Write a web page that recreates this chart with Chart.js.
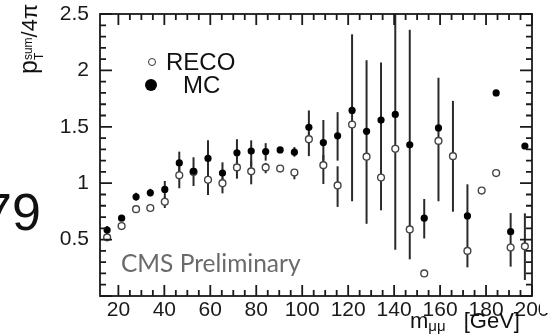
<!DOCTYPE html>
<html>
<head>
<meta charset="utf-8">
<script src="https://cdn.jsdelivr.net/npm/chart.js@4.4.1/dist/chart.umd.min.js"></script>
<style>
  body { margin: 0; background: #fff; }
  #wrap { position: relative; width: 557px; height: 335px; overflow: hidden; font-family: 'Liberation Sans', Arial, sans-serif; color: #111; }
  #chart-pt { position: absolute; left: 0; top: 0; }
  .lbl { position: absolute; white-space: nowrap; line-height: 1; }
  .mk { position: absolute; border-radius: 50%; box-sizing: border-box; }
  sub { line-height: 0; }
</style>
</head>
<body>
<div id="wrap">
  <canvas id="chart-pt" width="557" height="335"></canvas>

  <div class="lbl" style="left:-17px; top:186px; font-size:52px;">79</div>

  <div class="lbl" id="ytitle" style="left:13px; top:74px; transform:rotate(-90deg); transform-origin:left top; line-height:30px;">
    <span style="font-size:25px">p</span><span style="display:inline-block; vertical-align:-6px; line-height:11px; font-size:12px;">sum<br>T</span><span style="font-size:22px">/4π</span>
  </div>

  <div class="lbl" style="left:410px; top:310px; font-size:22px; line-height:22px;">m<sub style="font-size:15px; vertical-align:-3px; padding-right:12px;">μμ</sub> [GeV]</div>

  <!-- legend -->
  <div class="mk" style="left:148px; top:58px; width:8px; height:8px; border:1.5px solid #333; background:#fff;"></div>
  <div class="lbl" style="left:166px; top:50px; font-size:24px;">RECO</div>
  <div class="mk" style="left:145px; top:79px; width:12px; height:12px; background:#000;"></div>
  <div class="lbl" style="left:183px; top:73px; font-size:24px;">MC</div>

  <div class="lbl" style="left:121px; top:251px; font-size:24.5px; font-family:Lato, sans-serif; color:#6a6a6a;">CMS Preliminary</div>

  <!-- the figure is trimmed a little past the right axis -->
  <div style="position:absolute; left:540px; top:296px; width:17px; height:17px; background:#fff;"></div>
</div>

<script>
// dimuon mass bin centres [GeV]
const massBins = [15.1, 21.4, 27.7, 33.9, 40.2, 46.5, 52.7, 59.0, 65.3, 71.6,
                  77.8, 84.1, 90.4, 96.6, 102.9, 109.2, 115.4, 121.7, 128.0, 134.3,
                  140.5, 146.8, 153.1, 159.3, 165.6, 171.9, 178.1, 184.4, 190.7, 196.9]

// generator level (MC)
const mcVal = [0.585, 0.69, 0.88, 0.915, 0.945, 1.18, 1.105, 1.22, 1.09, 1.27,
               1.285, 1.28, 1.295, 1.275, 1.495, 1.36, 1.42, 1.645, 1.46, 1.56,
               1.61, 1.34, 0.69, 1.49, null, 0.71, null, 1.80, 0.57, 1.33]
const mcLo  = [0.55, 0.67, 0.845, 0.885, 0.86, 1.08, 0.975, 1.05, 1.0, 1.15,
               1.15, 1.2, 1.275, 1.235, 1.35, 1.2, 1.2, 0.84, 0.64, 0.76,
               0.41, 0.325, 0.51, 0.84, null, 0.254, null, null, 0.26, null]
const mcHi  = [0.62, 0.71, 0.915, 0.95, 1.02, 1.28, 1.23, 1.38, 1.185, 1.39,
               1.38, 1.355, 1.315, 1.32, 1.645, 1.56, 1.63, 2.32, 2.09, 2.07,
               2.7, 2.36, 0.86, 1.935, null, 0.99, null, null, 0.735, null]

// reconstructed (RECO)
const recoVal = [0.52, 0.62, 0.77, 0.78, 0.835, 1.07, 1.10, 1.03, 1.0, 1.14,
                 1.105, 1.14, 1.13, 1.095, 1.39, 1.16, 0.98, 1.52, 1.235, 1.05,
                 1.305, 0.59, 0.20, 1.375, 1.24, 0.40, 0.935, 1.09, 0.43, 0.44]
const recoLo  = [null, null, null, null, 0.78, 0.955, null, 0.895, 0.91, 1.04,
                 0.99, 1.088, null, 1.035, 1.24, 0.993, 0.79, null, null, null,
                 null, null, null, null, 0.747, null, null, null, null, 0.142]
const recoHi  = [null, null, null, null, 0.88, 1.15, null, 1.15, 1.05, 1.2,
                 1.2, 1.18, null, 1.12, 1.45, 1.25, 1.15, null, null, null,
                 null, null, null, null, 1.73, null, null, null, null, 0.733]

const yLabels = [0.5, 1, 1.5, 2, 2.5]

const pts = vals => massBins.map((m, i) => ({ x: m, y: vals[i] })).filter(p => p.y !== null)

const errorBars = {
  id: 'errorBars',
  beforeDatasetsDraw(chart) {
    const { ctx, chartArea: a, scales: { x, y } } = chart
    ctx.save()
    ctx.beginPath(); ctx.rect(a.left, a.top, a.right - a.left, a.bottom - a.top); ctx.clip()
    ctx.strokeStyle = '#2a2a2a'
    ctx.lineWidth = 2
    const bars = (lo, hi) => massBins.forEach((m, i) => {
      if (lo[i] === null || hi[i] === null) return
      const px = x.getPixelForValue(m)
      ctx.beginPath()
      ctx.moveTo(px, y.getPixelForValue(lo[i]))
      ctx.lineTo(px, y.getPixelForValue(hi[i]))
      ctx.stroke()
    })
    bars(recoLo, recoHi)
    bars(mcLo, mcHi)
    ctx.restore()
  }
}

// frame with inward ticks on all four sides
const frameTicks = {
  id: 'frameTicks',
  afterDatasetsDraw(chart) {
    const { ctx, chartArea: a, scales: { x, y } } = chart
    ctx.save()
    ctx.strokeStyle = '#1a1a1a'
    ctx.lineWidth = 1.8
    ctx.strokeRect(a.left, a.top, a.right - a.left, a.bottom - a.top)
    ctx.beginPath()
    x.ticks.forEach(t => {
      if (t.value % 5 !== 0) return
      const px = x.getPixelForValue(t.value)
      const len = t.value % 20 === 0 ? 11 : 6
      ctx.moveTo(px, a.bottom); ctx.lineTo(px, a.bottom - len)
      ctx.moveTo(px, a.top); ctx.lineTo(px, a.top + len)
    })
    y.ticks.forEach(t => {
      const py = y.getPixelForValue(t.value)
      const len = Math.round(t.value * 10) % 5 === 0 ? 12 : 6
      ctx.moveTo(a.left, py); ctx.lineTo(a.left + len, py)
      ctx.moveTo(a.right, py); ctx.lineTo(a.right - len, py)
    })
    ctx.stroke()
    ctx.restore()
  }
}

const tickFont = { family: "'Liberation Sans', Arial, sans-serif", size: 21, lineHeight: 1 }

new Chart(document.getElementById('chart-pt'), {
  type: 'scatter',
  data: {
    datasets: [{
      label: 'MC',
      data: pts(mcVal),
      pointRadius: 3.6,
      pointBackgroundColor: '#000',
      pointBorderColor: '#000',
      pointBorderWidth: 0,
      order: 0,
    }, {
      label: 'RECO',
      data: pts(recoVal),
      pointRadius: 3.4,
      pointBackgroundColor: '#fff',
      pointBorderColor: '#444',
      pointBorderWidth: 1.4,
      order: 1,
    }],
  },
  options: {
    responsive: false,
    animation: false,
    layout: { padding: { top: 14, right: 25, left: 0, bottom: 0 } },
    plugins: { legend: { display: false }, tooltip: { enabled: false } },
    scales: {
      x: {
        type: 'linear', min: 12, max: 200,
        grid: { display: false },
        border: { display: false },
        ticks: {
          stepSize: 5, autoSkip: false, maxRotation: 0, padding: -4,
          color: '#1a1a1a', font: tickFont,
          callback: v => v % 20 === 0 ? String(v) : '',
        },
        afterFit: s => { s.height = 39 },
      },
      y: {
        min: 0, max: 2.5,
        grid: { display: false },
        border: { display: false },
        ticks: {
          stepSize: 0.1, autoSkip: false, padding: 3,
          color: '#1a1a1a', font: tickFont,
          callback: v => {
            const hit = yLabels.find(l => Math.abs(l - v) < 1e-6)
            return hit === undefined ? '' : String(hit)
          },
        },
        afterFit: s => { s.width = 100 },
      },
    },
  },
  plugins: [errorBars, frameTicks],
})
</script>
</body>
</html>
